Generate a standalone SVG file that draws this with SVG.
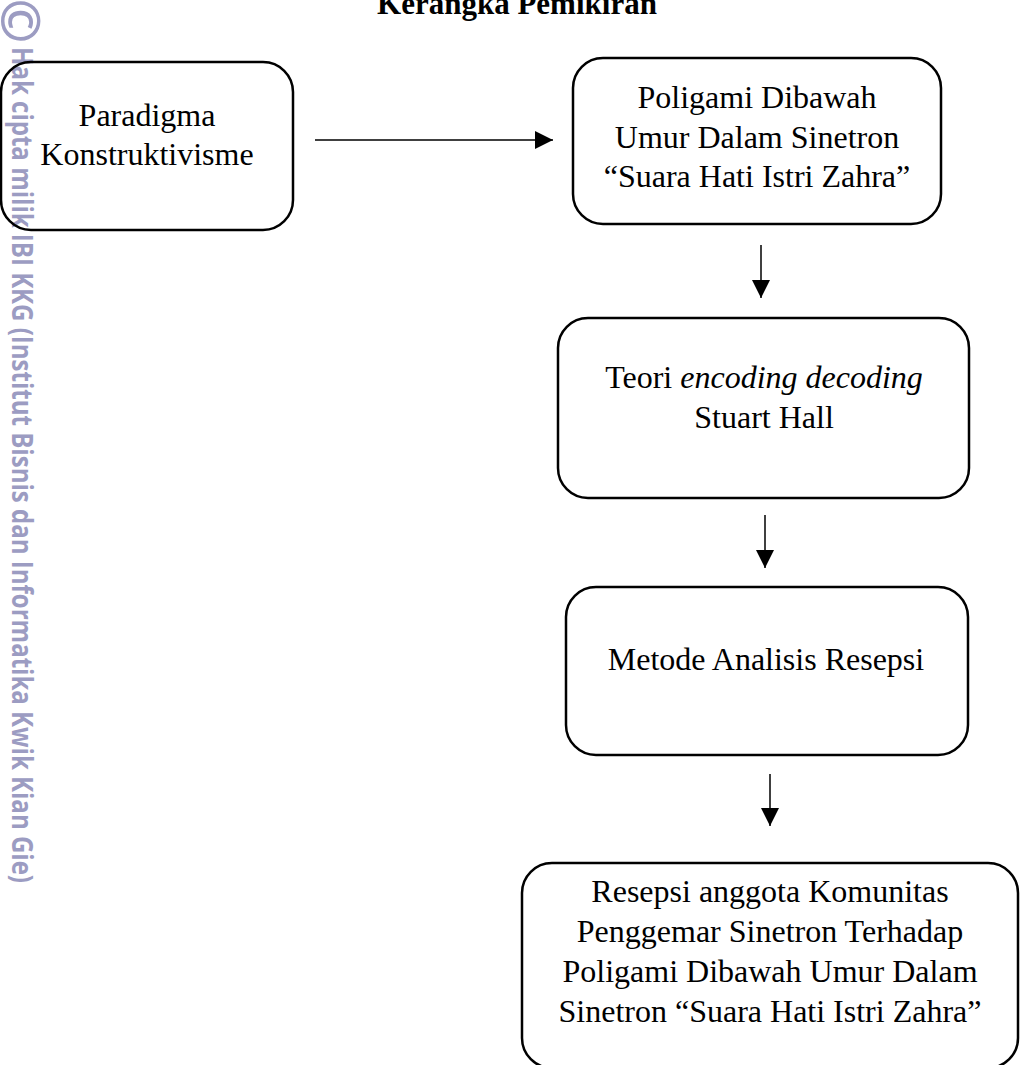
<svg xmlns="http://www.w3.org/2000/svg" width="1023" height="1065" viewBox="0 0 1023 1065">
<defs>
<style>
.box{fill:none;stroke:#000;stroke-width:2.5}
.t{font-family:"Liberation Serif","Times New Roman",serif;font-size:32px;fill:#000;text-anchor:middle}
.title{font-family:"Liberation Serif","Times New Roman",serif;font-size:31px;font-weight:bold;fill:#000;text-anchor:middle}
.wm{font-family:"Open Sans","DejaVu Sans",sans-serif;font-weight:bold;fill:#9c9cc2}
.conn{stroke:#000;stroke-width:1.5;fill:none}
</style>
<marker id="ah" markerUnits="userSpaceOnUse" markerWidth="18" markerHeight="18" viewBox="0 0 16 16" refX="16" refY="8" orient="auto">
<path d="M0,0 L16,8 L0,16 Z" fill="#000"/>
</marker>
</defs>
<rect width="1023" height="1065" fill="#fff"/>
<g id="watermark">
<text class="wm" font-size="54" transform="translate(23,21) rotate(90)" text-anchor="middle" dominant-baseline="central">©</text>
<text class="wm" font-size="28" transform="translate(12,47) rotate(90)" textLength="836" lengthAdjust="spacingAndGlyphs">Hak cipta milik IBI KKG (Institut Bisnis dan Informatika Kwik Kian Gie)</text>
</g>
<text id="title" class="title" x="517" y="14">Kerangka Pemikiran</text>
<g id="connectors">
<line class="conn" x1="315" y1="140" x2="553" y2="140" marker-end="url(#ah)"/>
<line class="conn" x1="761" y1="245" x2="761" y2="298" marker-end="url(#ah)"/>
<line class="conn" x1="765" y1="515" x2="765" y2="568" marker-end="url(#ah)"/>
<line class="conn" x1="770" y1="774" x2="770" y2="826" marker-end="url(#ah)"/>
</g>
<g id="node-paradigma">
<rect class="box" x="1" y="62" width="292" height="168" rx="30"/>
<text class="t" x="147" y="126">Paradigma</text>
<text class="t" x="147" y="165">Konstruktivisme</text>
</g>
<g id="node-poligami">
<rect class="box" x="573" y="58" width="368" height="166" rx="30"/>
<text class="t" x="757" y="108">Poligami Dibawah</text>
<text class="t" x="757" y="148">Umur Dalam Sinetron</text>
<text class="t" x="757" y="187">“Suara Hati Istri Zahra”</text>
</g>
<g id="node-teori">
<rect class="box" x="558" y="318" width="411" height="180" rx="30"/>
<text class="t" x="764" y="388">Teori <tspan font-style="italic">encoding decoding</tspan></text>
<text class="t" x="764" y="428">Stuart Hall</text>
</g>
<g id="node-metode">
<rect class="box" x="566" y="587" width="402" height="168" rx="30"/>
<text class="t" x="766" y="670">Metode Analisis Resepsi</text>
</g>
<g id="node-resepsi">
<rect class="box" x="522" y="863" width="496" height="205" rx="30"/>
<text class="t" x="770" y="902">Resepsi anggota Komunitas</text>
<text class="t" x="770" y="942">Penggemar Sinetron Terhadap</text>
<text class="t" x="770" y="982">Poligami Dibawah Umur Dalam</text>
<text class="t" x="770" y="1022">Sinetron “Suara Hati Istri Zahra”</text>
</g>
</svg>
